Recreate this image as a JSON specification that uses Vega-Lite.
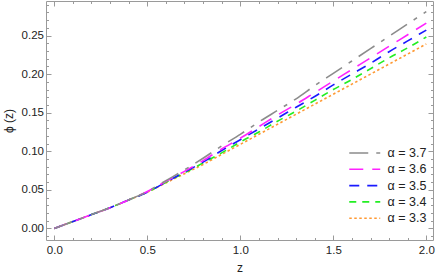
{
  "$schema": "https://vega.github.io/schema/vega-lite/v6.json",
  "width": 387,
  "height": 239,
  "autosize": "none",
  "padding": {"left": 46, "top": 1, "right": 3, "bottom": 35},
  "config": {
    "view": {"stroke": "#9a9a9a", "strokeWidth": 1},
    "font": "Liberation Sans",
    "axis": {
      "domain": false, "grid": false, "tickColor": "#9a9a9a", "tickWidth": 1,
      "labelFont": "Liberation Sans", "labelFontSize": 11.5, "labelColor": "#222222",
      "titleFont": "Liberation Sans", "titleFontSize": 12, "titleFontWeight": "normal", "titleColor": "#222222",
      "labelOverlap": false, "labelFlush": false, "labelBound": false
    },
    "legend": {"padding": 0}
  },
  "data": {"values": [
    {"z":0,"phi":0,"alpha":"3.3"},{"z":0.1,"phi":0.009,"alpha":"3.3"},{"z":0.2,"phi":0.018,"alpha":"3.3"},{"z":0.3,"phi":0.027,"alpha":"3.3"},{"z":0.4,"phi":0.037,"alpha":"3.3"},{"z":0.5,"phi":0.047,"alpha":"3.3"},{"z":0.6,"phi":0.059,"alpha":"3.3"},{"z":0.7,"phi":0.071,"alpha":"3.3"},{"z":0.8,"phi":0.083,"alpha":"3.3"},{"z":0.9,"phi":0.096,"alpha":"3.3"},{"z":1.0,"phi":0.109,"alpha":"3.3"},{"z":1.1,"phi":0.122,"alpha":"3.3"},{"z":1.2,"phi":0.135,"alpha":"3.3"},{"z":1.3,"phi":0.148,"alpha":"3.3"},{"z":1.4,"phi":0.161,"alpha":"3.3"},{"z":1.5,"phi":0.174,"alpha":"3.3"},{"z":1.6,"phi":0.187,"alpha":"3.3"},{"z":1.7,"phi":0.200,"alpha":"3.3"},{"z":1.8,"phi":0.213,"alpha":"3.3"},{"z":1.9,"phi":0.226,"alpha":"3.3"},{"z":2.0,"phi":0.239,"alpha":"3.3"},
    {"z":0,"phi":0,"alpha":"3.4"},{"z":0.1,"phi":0.009,"alpha":"3.4"},{"z":0.2,"phi":0.018,"alpha":"3.4"},{"z":0.3,"phi":0.027,"alpha":"3.4"},{"z":0.4,"phi":0.037,"alpha":"3.4"},{"z":0.5,"phi":0.047,"alpha":"3.4"},{"z":0.6,"phi":0.060,"alpha":"3.4"},{"z":0.7,"phi":0.072,"alpha":"3.4"},{"z":0.8,"phi":0.085,"alpha":"3.4"},{"z":0.9,"phi":0.098,"alpha":"3.4"},{"z":1.0,"phi":0.112,"alpha":"3.4"},{"z":1.1,"phi":0.125,"alpha":"3.4"},{"z":1.2,"phi":0.139,"alpha":"3.4"},{"z":1.3,"phi":0.152,"alpha":"3.4"},{"z":1.4,"phi":0.166,"alpha":"3.4"},{"z":1.5,"phi":0.180,"alpha":"3.4"},{"z":1.6,"phi":0.193,"alpha":"3.4"},{"z":1.7,"phi":0.207,"alpha":"3.4"},{"z":1.8,"phi":0.221,"alpha":"3.4"},{"z":1.9,"phi":0.234,"alpha":"3.4"},{"z":2.0,"phi":0.248,"alpha":"3.4"},
    {"z":0,"phi":0,"alpha":"3.5"},{"z":0.1,"phi":0.009,"alpha":"3.5"},{"z":0.2,"phi":0.018,"alpha":"3.5"},{"z":0.3,"phi":0.027,"alpha":"3.5"},{"z":0.4,"phi":0.037,"alpha":"3.5"},{"z":0.5,"phi":0.047,"alpha":"3.5"},{"z":0.6,"phi":0.060,"alpha":"3.5"},{"z":0.7,"phi":0.073,"alpha":"3.5"},{"z":0.8,"phi":0.086,"alpha":"3.5"},{"z":0.9,"phi":0.101,"alpha":"3.5"},{"z":1.0,"phi":0.115,"alpha":"3.5"},{"z":1.1,"phi":0.129,"alpha":"3.5"},{"z":1.2,"phi":0.143,"alpha":"3.5"},{"z":1.3,"phi":0.157,"alpha":"3.5"},{"z":1.4,"phi":0.171,"alpha":"3.5"},{"z":1.5,"phi":0.186,"alpha":"3.5"},{"z":1.6,"phi":0.200,"alpha":"3.5"},{"z":1.7,"phi":0.214,"alpha":"3.5"},{"z":1.8,"phi":0.229,"alpha":"3.5"},{"z":1.9,"phi":0.243,"alpha":"3.5"},{"z":2.0,"phi":0.257,"alpha":"3.5"},
    {"z":0,"phi":0,"alpha":"3.6"},{"z":0.1,"phi":0.009,"alpha":"3.6"},{"z":0.2,"phi":0.018,"alpha":"3.6"},{"z":0.3,"phi":0.027,"alpha":"3.6"},{"z":0.4,"phi":0.037,"alpha":"3.6"},{"z":0.5,"phi":0.048,"alpha":"3.6"},{"z":0.6,"phi":0.061,"alpha":"3.6"},{"z":0.7,"phi":0.074,"alpha":"3.6"},{"z":0.8,"phi":0.088,"alpha":"3.6"},{"z":0.9,"phi":0.103,"alpha":"3.6"},{"z":1.0,"phi":0.117,"alpha":"3.6"},{"z":1.1,"phi":0.132,"alpha":"3.6"},{"z":1.2,"phi":0.147,"alpha":"3.6"},{"z":1.3,"phi":0.161,"alpha":"3.6"},{"z":1.4,"phi":0.176,"alpha":"3.6"},{"z":1.5,"phi":0.191,"alpha":"3.6"},{"z":1.6,"phi":0.206,"alpha":"3.6"},{"z":1.7,"phi":0.221,"alpha":"3.6"},{"z":1.8,"phi":0.236,"alpha":"3.6"},{"z":1.9,"phi":0.251,"alpha":"3.6"},{"z":2.0,"phi":0.266,"alpha":"3.6"},
    {"z":0,"phi":0,"alpha":"3.7"},{"z":0.1,"phi":0.009,"alpha":"3.7"},{"z":0.2,"phi":0.018,"alpha":"3.7"},{"z":0.3,"phi":0.027,"alpha":"3.7"},{"z":0.4,"phi":0.037,"alpha":"3.7"},{"z":0.5,"phi":0.048,"alpha":"3.7"},{"z":0.6,"phi":0.062,"alpha":"3.7"},{"z":0.7,"phi":0.076,"alpha":"3.7"},{"z":0.8,"phi":0.091,"alpha":"3.7"},{"z":0.9,"phi":0.107,"alpha":"3.7"},{"z":1.0,"phi":0.122,"alpha":"3.7"},{"z":1.1,"phi":0.138,"alpha":"3.7"},{"z":1.2,"phi":0.153,"alpha":"3.7"},{"z":1.3,"phi":0.168,"alpha":"3.7"},{"z":1.4,"phi":0.185,"alpha":"3.7"},{"z":1.5,"phi":0.201,"alpha":"3.7"},{"z":1.6,"phi":0.217,"alpha":"3.7"},{"z":1.7,"phi":0.233,"alpha":"3.7"},{"z":1.8,"phi":0.249,"alpha":"3.7"},{"z":1.9,"phi":0.265,"alpha":"3.7"},{"z":2.0,"phi":0.281,"alpha":"3.7"}
  ]},
  "layer": [
    {
      "mark": {"type": "line", "strokeWidth": 1.6, "interpolate": "monotone"},
      "encoding": {
        "x": {
          "field": "z", "type": "quantitative",
          "scale": {"domain": [-0.0446, 2.036], "nice": false, "zero": false},
          "axis": {
            "orient": "bottom", "title": "z",
            "values": [0,0.1,0.2,0.3,0.4,0.5,0.6,0.7,0.8,0.9,1,1.1,1.2,1.3,1.4,1.5,1.6,1.7,1.8,1.9,2],
            "tickSize": {"condition": {"test": "abs(datum.value*2 - round(datum.value*2)) < 0.001", "value": -5}, "value": -2.5},
            "labelExpr": "abs(datum.value*2 - round(datum.value*2)) < 0.001 ? format(datum.value, '.1f') : ''",
            "labelPadding": 9.5, "titlePadding": 4
          }
        },
        "y": {
          "field": "phi", "type": "quantitative",
          "scale": {"domain": [-0.0149, 0.2947], "nice": false, "zero": false},
          "axis": {
            "orient": "left", "title": "ϕ (z)",
            "values": [-0.01,0,0.01,0.02,0.03,0.04,0.05,0.06,0.07,0.08,0.09,0.1,0.11,0.12,0.13,0.14,0.15,0.16,0.17,0.18,0.19,0.2,0.21,0.22,0.23,0.24,0.25,0.26,0.27,0.28,0.29],
            "tickSize": {"condition": {"test": "abs(datum.value*20 - round(datum.value*20)) < 0.001", "value": -5}, "value": -2.5},
            "labelExpr": "abs(datum.value*20 - round(datum.value*20)) < 0.001 ? format(datum.value, '.2f') : ''",
            "labelPadding": 7.5, "titlePadding": 6
          }
        },
        "color": {
          "field": "alpha", "type": "nominal",
          "scale": {"domain": ["3.7","3.6","3.5","3.4","3.3"], "range": ["#8c8c8c","#ff22ff","#1a1aff","#22ee22","#ff9933"]},
          "legend": {"title": null, "orient": "none", "legendX": 309.75, "legendY": 143, "symbolType": "M-2,0H2", "symbolSize": 240, "symbolStrokeWidth": 1.6, "symbolFillColor": "transparent", "labelFont": "Liberation Sans", "labelFontSize": 12.5, "labelColor": "#222222", "labelOffset": 13.75, "rowPadding": 0.3, "labelExpr": "'α = ' + datum.label"}
        },
        "strokeDash": {
          "field": "alpha", "type": "nominal",
          "scale": {"domain": ["3.7","3.6","3.5","3.4","3.3"], "range": [[19,8,4,8],[14,9],[10,8],[7,6],[2.5,2.5]]},
          "legend": {"title": null, "orient": "none", "legendX": 309.75, "legendY": 143, "symbolType": "M-2,0H2", "symbolSize": 240, "symbolStrokeWidth": 1.6, "symbolFillColor": "transparent", "labelFont": "Liberation Sans", "labelFontSize": 12.5, "labelColor": "#222222", "labelOffset": 13.75, "rowPadding": 0.3, "labelExpr": "'α = ' + datum.label"}
        }
      }
    },
    {
      "mark": {"type": "line", "opacity": 0},
      "encoding": {
        "x": {
          "field": "z", "type": "quantitative",
          "scale": {"domain": [-0.0446, 2.036], "nice": false, "zero": false},
          "axis": {
            "orient": "top", "title": null, "labels": false,
            "values": [0,0.1,0.2,0.3,0.4,0.5,0.6,0.7,0.8,0.9,1,1.1,1.2,1.3,1.4,1.5,1.6,1.7,1.8,1.9,2],
            "tickSize": {"condition": {"test": "abs(datum.value*2 - round(datum.value*2)) < 0.001", "value": -5}, "value": -2.5}
          }
        },
        "y": {
          "field": "phi", "type": "quantitative",
          "scale": {"domain": [-0.0149, 0.2947], "nice": false, "zero": false},
          "axis": {
            "orient": "right", "title": null, "labels": false,
            "values": [-0.01,0,0.01,0.02,0.03,0.04,0.05,0.06,0.07,0.08,0.09,0.1,0.11,0.12,0.13,0.14,0.15,0.16,0.17,0.18,0.19,0.2,0.21,0.22,0.23,0.24,0.25,0.26,0.27,0.28,0.29],
            "tickSize": {"condition": {"test": "abs(datum.value*20 - round(datum.value*20)) < 0.001", "value": -5}, "value": -2.5}
          }
        },
        "detail": {"field": "alpha", "type": "nominal"}
      }
    }
  ]
}
